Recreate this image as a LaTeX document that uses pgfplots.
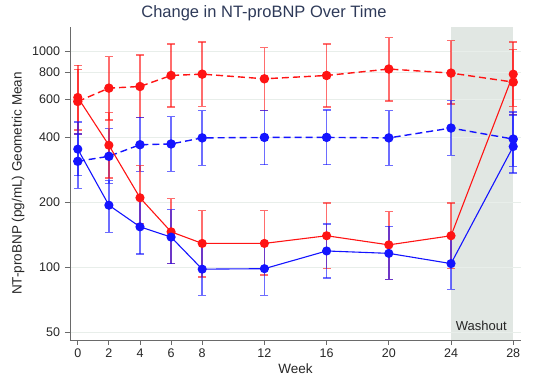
\documentclass[border=0pt]{standalone}
\usepackage{fontspec}
\setmainfont{Liberation Sans}
\usepackage{pgfplots}
\usepackage{pgfplotstable}
\pgfplotsset{compat=1.18}
\definecolor{myred}{HTML}{FF1414}
\definecolor{myblue}{HTML}{1414FF}
\definecolor{shadecol}{HTML}{E1E7E3}
\definecolor{gridcol}{HTML}{E8EEEA}
\definecolor{titlecol}{HTML}{2E3A59}
\definecolor{axiscol}{HTML}{6A6A6A}

% x  y  lo  hi
\pgfplotstableread{
x y lo hi
0 613 433 862
2 368 259 521
4 210 160 296
6 146 104 208
8 129 90 183
12 129 92 183
16 140 99 199
20 127 88 181
24 140 99 199
28 786 557 1106
}\redsolid
\pgfplotstableread{
x y lo hi
0 587 415 828
2 677 482 946
4 689 495 966
6 775 553 1086
8 786 557 1106
12 748 534 1044
16 775 553 1086
20 830 590 1160
24 795 571 1125
28 722 510 1020
}\reddashed
\pgfplotstableread{
x y lo hi
0 353 266 471
2 194 145 252
4 154 115 208
6 138 104 185
8 98 74 130
12 98.5 74 130
16 119 89 159
20 116 88 155
24 104 79 138
28 363 274 509
}\bluesolid
\pgfplotstableread{
x y lo hi
0 310 232 415
2 327 245 439
4 370 278 495
6 373 278 500
8 398 297 532
12 400 299 534
16 400 299 537
20 398 297 532
24 442 330 592
28 393 294 525
}\bluedashed

\pgfplotsset{
  myerr/.style={
    error bars/.cd, y dir=both, y explicit, error mark=|,
    error bar style={#1, opacity=0.62, line width=1.5pt, solid},
    error mark options={#1, opacity=0.62, line width=1.4pt, mark size=4pt, solid},
  },
}

\begin{document}
\begin{tikzpicture}
\begin{axis}[
  set layers,
  at={(0,0)}, anchor=south west,
  scale only axis, width=451pt, height=313pt,
  xmin=-0.5, xmax=28.5,
  ymode=log, ymin=46, ymax=1300,
  xtick={0,2,4,6,8,12,16,20,24,28},
  xticklabels={0,2,4,6,8,12,16,20,24,28},
  ytick={50,100,200,400,600,800,1000},
  yticklabels={50,100,200,400,600,800,1000},
  yminorticks=false,
  axis x line*=bottom, axis y line*=left,
  axis line style={draw=axiscol, line width=0.9pt},
  tick align=outside, major tick length=5pt,
  tick style={draw=axiscol, line width=0.9pt},
  ymajorgrids, grid style={draw=gridcol, line width=0.9pt},
  tick label style={font=\fontsize{12.5}{14}\selectfont, text=black!85},
  yticklabel style={xshift=-1.5pt},
  title={Change in NT-proBNP Over Time},
  title style={at={(axis description cs:0.43,1.0118)}, anchor=base,
    font=\fontsize{16.5}{19}\selectfont, text=titlecol},
  xlabel={Week},
  xlabel style={at={(axis description cs:0.5,-0.1086)}, anchor=base,
    font=\fontsize{13.5}{16}\selectfont, text=black!85},
  ylabel={NT-proBNP (pg/mL) Geometric Mean},
  ylabel style={at={(axis description cs:-0.1071,0.5)}, anchor=base,
    font=\fontsize{13.5}{16}\selectfont, text=black!85},
  clip=true,
]
\addplot[fill=shadecol, draw=none, forget plot, on layer=axis background]
  coordinates {(24,46) (28,46) (28,1300) (24,1300)} -- cycle;

\addplot[myred, line width=1.4pt, dash pattern=on 7pt off 4pt, mark=*, mark size=4pt,
  mark options={solid}, myerr=myred]
  table[x=x, y=y, y error plus expr=\thisrow{hi}-\thisrow{y}, y error minus expr=\thisrow{y}-\thisrow{lo}] {\reddashed};
\addplot[myblue, line width=1.4pt, dash pattern=on 7pt off 4pt, mark=*, mark size=4pt,
  mark options={solid}, myerr=myblue]
  table[x=x, y=y, y error plus expr=\thisrow{hi}-\thisrow{y}, y error minus expr=\thisrow{y}-\thisrow{lo}] {\bluedashed};
\addplot[myred, line width=1.1pt, mark=*, mark size=4pt, myerr=myred]
  table[x=x, y=y, y error plus expr=\thisrow{hi}-\thisrow{y}, y error minus expr=\thisrow{y}-\thisrow{lo}] {\redsolid};
\addplot[myblue, line width=1.1pt, mark=*, mark size=4pt, myerr=myblue]
  table[x=x, y=y, y error plus expr=\thisrow{hi}-\thisrow{y}, y error minus expr=\thisrow{y}-\thisrow{lo}] {\bluesolid};

\node[anchor=base, font=\fontsize{13}{15}\selectfont, text=black!85] at (axis cs:25.95,51) {Washout};
\end{axis}
\pgfresetboundingbox
\path[use as bounding box] (-70pt,-38pt) rectangle (465pt,340pt);
\end{tikzpicture}
\end{document}
